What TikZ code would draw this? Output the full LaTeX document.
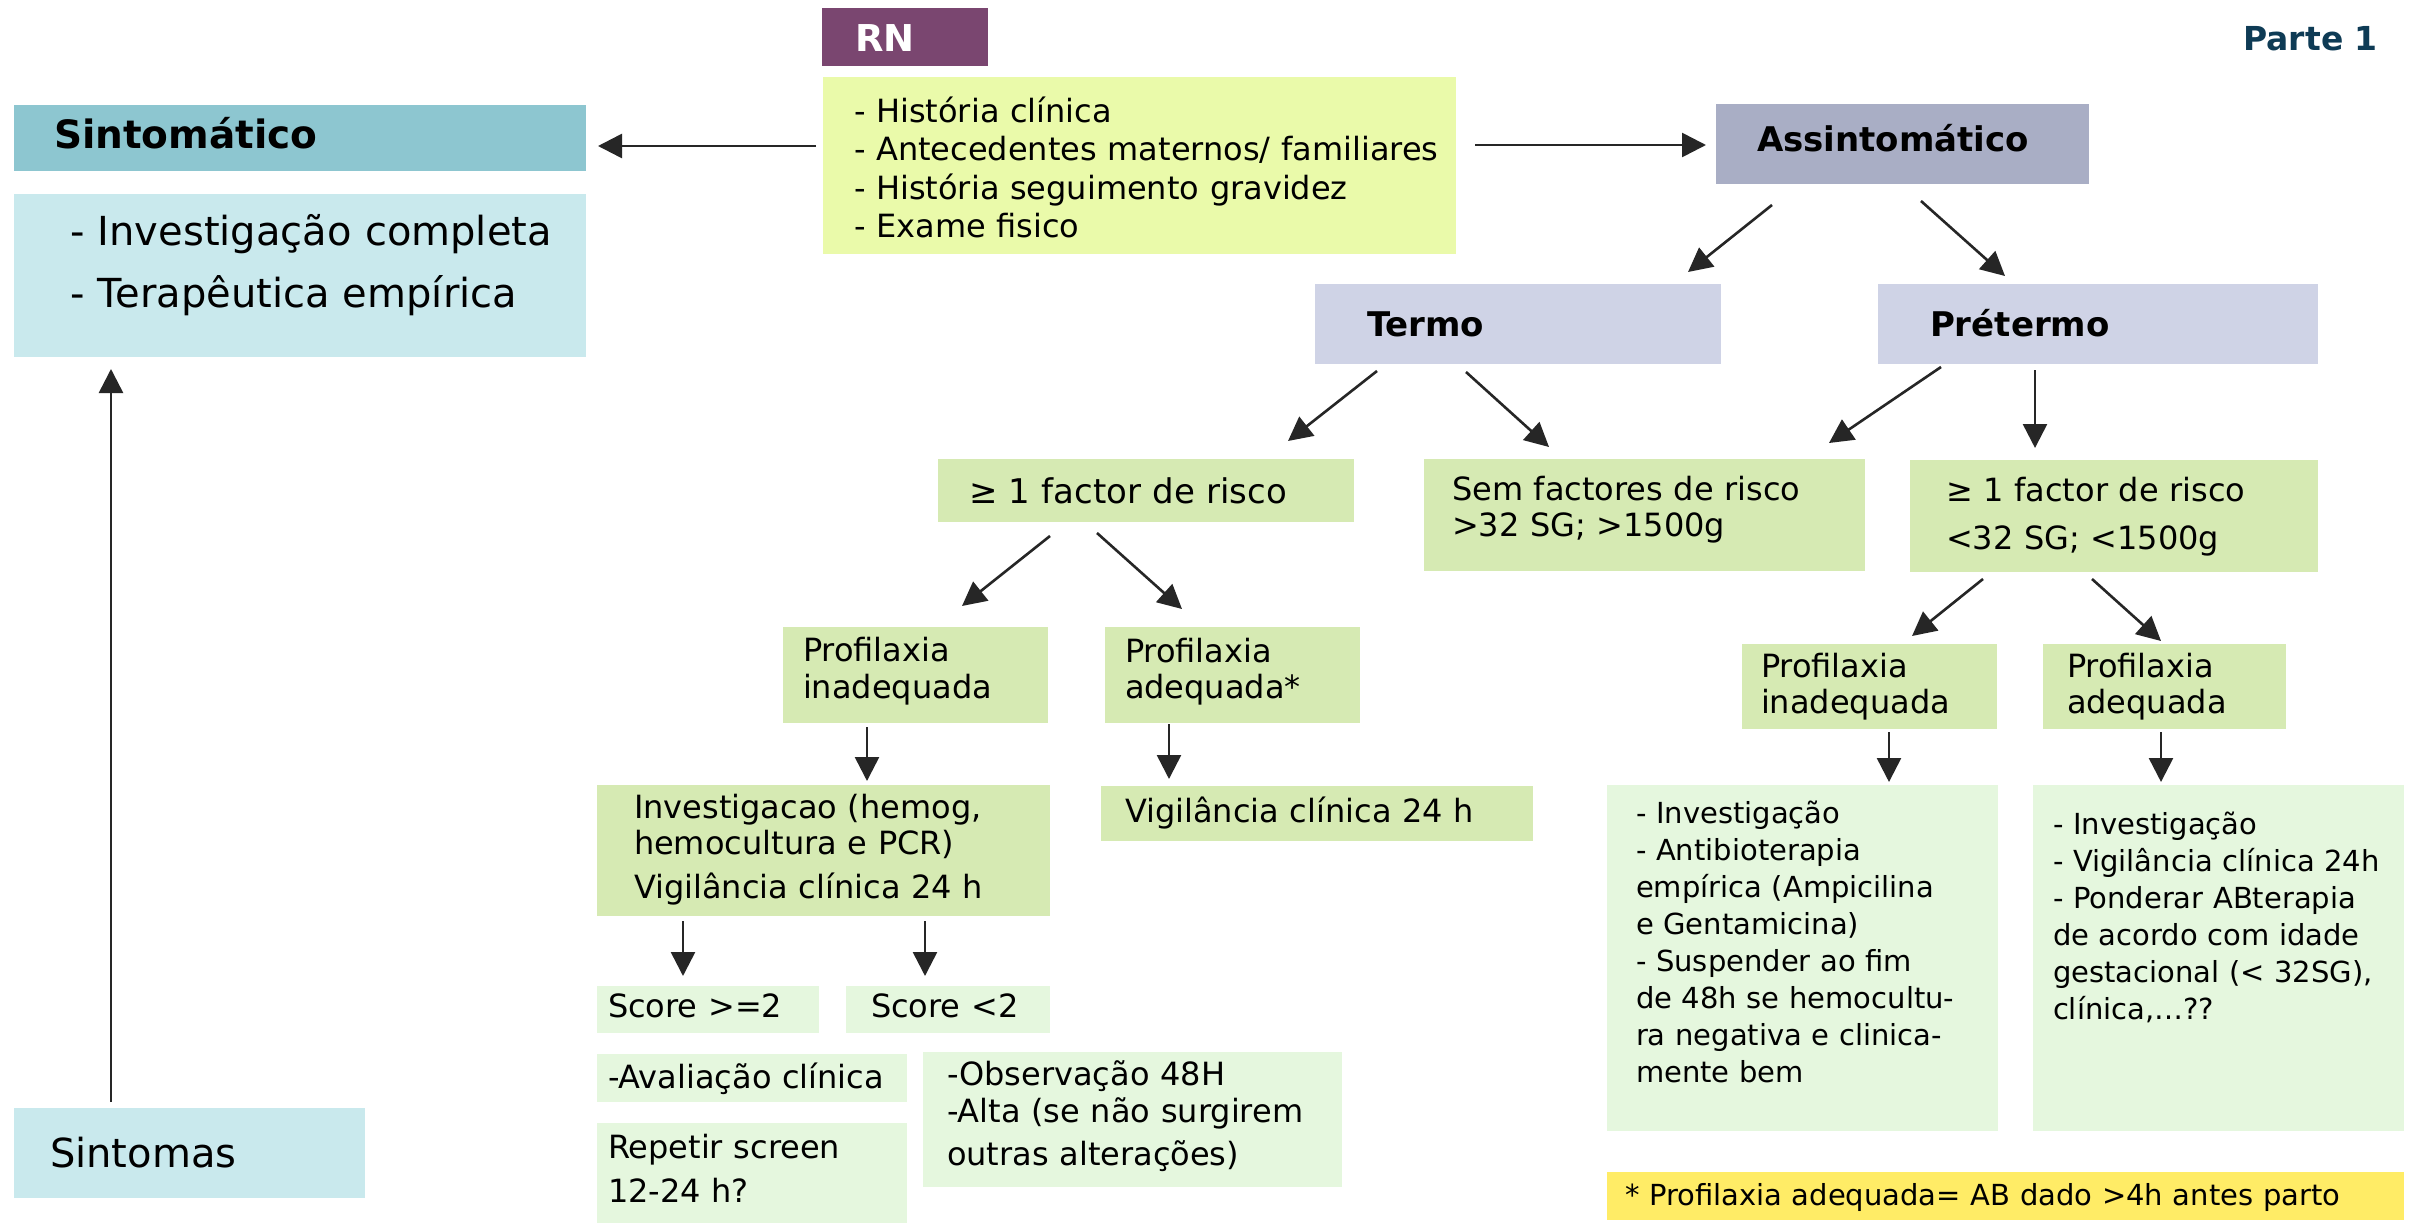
\documentclass[tikz,border=0pt]{standalone}
\usepackage{fontspec}
\setmainfont{DejaVu Sans}
\usetikzlibrary{arrows.meta,positioning}
\definecolor{RNPurple}{HTML}{7A4670}
\definecolor{ParteBlue}{HTML}{0E3B55}
\definecolor{SintTeal}{HTML}{8DC6D0}
\definecolor{SintLight}{HTML}{C9E9ED}
\definecolor{HistYellow}{HTML}{EAFAAA}
\definecolor{AssintGray}{HTML}{A9AEC5}
\definecolor{TermoLav}{HTML}{CFD3E6}
\definecolor{LeafGreen}{HTML}{D6EAB3}
\definecolor{PaleGreen}{HTML}{E5F7DE}
\definecolor{NoteYellow}{HTML}{FFEC66}
\definecolor{Arrow}{HTML}{262626}
\newcommand{\fsz}[2]{\fontsize{#1}{#2}\selectfont}
\tikzset{
  % fill, width, height, left pad, first baseline below the top edge
  panel/.style n args={5}{anchor=north west, inner sep=0pt, outer sep=0pt,
    fill=#1, minimum width=#2pt, text width=#2pt, minimum height=#3pt,
    align=left, text height=#5pt,
    /utils/exec={\pgfmathsetlengthmacro\paneldepth{#3-#5}},
    text depth=\paneldepth,
    execute at begin node={\leftskip=#4pt\relax}},
  flow/.style={draw=Arrow, line width=2.6pt, -{Triangle[length=24pt,width=24pt]}},
}

\begin{document}
\begin{tikzpicture}[x=1pt,y=-1pt]
  \fill[white] (0,0) rectangle (2413,1223);
  \useasboundingbox (0,0) rectangle (2413,1223);

  \node[panel={RNPurple}{166}{58}{33}{44}, font=\bfseries\fsz{37}{44}, text=white] (rn) at (822,8) {RN};
  \node[anchor=base east, inner sep=0pt, font=\bfseries\fsz{33}{40}, text=ParteBlue] (parte) at (2378,51) {Parte 1};
  \node[panel={HistYellow}{633}{177}{31}{45}, font=\fsz{32}{38.5}] (hist) at (823,77)
    {- História clínica\\- Antecedentes maternos/ familiares\\- História seguimento gravidez\\- Exame fisico};

  % symptomatic branch
  \node[panel={SintTeal}{572}{66}{40}{43}, font=\bfseries\fsz{39}{46}] (sint) at (14,105) {Sintomático};
  \node[panel={SintLight}{572}{163}{56}{51}, font=\fsz{40}{62}] (sintbody) at (14,194)
    {- Investigação completa\\- Terapêutica empírica};
  \node[panel={SintLight}{351}{90}{36}{59}, font=\fsz{40}{48}] (sintomas) at (14,1108) {Sintomas};

  % asymptomatic branch
  \node[panel={AssintGray}{373}{80}{41}{47}, font=\bfseries\fsz{34}{40}] (assint) at (1716,104) {Assintomático};
  \node[panel={TermoLav}{406}{80}{52}{52}, font=\bfseries\fsz{34}{40}] (termo) at (1315,284) {Termo};
  \node[panel={TermoLav}{440}{80}{52}{52}, font=\bfseries\fsz{34}{40}] (pretermo) at (1878,284) {Prétermo};

  \node[panel={LeafGreen}{416}{63}{31}{44}, font=\fsz{34}{40}] (riscotermo) at (938,459) {≥ 1 factor de risco};
  \node[panel={LeafGreen}{441}{112}{28}{41}, font=\fsz{32}{36}] (semrisco) at (1424,459)
    {Sem factores de risco\\>32 SG; >1500g};
  \node[panel={LeafGreen}{408}{112}{36}{41}, font=\fsz{32}{48}] (riscopre) at (1910,460)
    {≥ 1 factor de risco\\<32 SG; <1500g};

  \node[panel={LeafGreen}{265}{96}{20}{34}, font=\fsz{32}{37}] (inadtermo) at (783,627) {Profilaxia\\inadequada};
  \node[panel={LeafGreen}{255}{96}{20}{35}, font=\fsz{32}{36}] (adtermo) at (1105,627) {Profilaxia\\adequada*};
  \node[panel={LeafGreen}{453}{131}{37}{33}, font=\fsz{32}{36}] (invtermo) at (597,785)
    {Investigacao (hemog,\\hemocultura e PCR)\\[8pt]Vigilância clínica 24 h};
  \node[panel={LeafGreen}{432}{55}{24}{36}, font=\fsz{32}{38}] (vigtermo) at (1101,786) {Vigilância clínica 24 h};

  \node[panel={PaleGreen}{222}{47}{11}{31}, font=\fsz{32}{38}] (scorehi) at (597,986) {Score >=2};
  \node[panel={PaleGreen}{204}{47}{25}{31}, font=\fsz{32}{38}] (scorelo) at (846,986) {Score <2};
  \node[panel={PaleGreen}{310}{48}{11}{34}, font=\fsz{32}{38}] (avaliacao) at (597,1054) {-Avaliação clínica};
  \node[panel={PaleGreen}{310}{100}{11}{35}, font=\fsz{32}{44}] (repetir) at (597,1123) {Repetir screen\\12-24 h?};
  \node[panel={PaleGreen}{419}{135}{24}{33}, font=\fsz{32}{37}] (observa) at (923,1052)
    {-Observação 48H\\-Alta (se não surgirem\\[6pt]outras alterações)};

  \node[panel={LeafGreen}{255}{85}{19}{33}, font=\fsz{32}{36}] (inadpre) at (1742,644) {Profilaxia\\inadequada};
  \node[panel={LeafGreen}{243}{85}{24}{33}, font=\fsz{32}{36}] (adpre) at (2043,644) {Profilaxia\\adequada};
  \node[panel={PaleGreen}{391}{346}{29}{38}, font=\fsz{29}{37}] (invpre) at (1607,785)
    {- Investigação\\- Antibioterapia\\empírica (Ampicilina\\e Gentamicina)\\- Suspender ao fim\\de 48h se hemocultu-\\ra negativa e clinica-\\mente bem};
  \node[panel={PaleGreen}{371}{346}{20}{49}, font=\fsz{29}{37}] (vigpre) at (2033,785)
    {- Investigação\\- Vigilância clínica 24h\\- Ponderar ABterapia\\de acordo com idade\\gestacional (< 32SG),\\clínica,…??};
  \node[panel={NoteYellow}{797}{48}{18}{33}, font=\fsz{29}{35}] (nota) at (1607,1172)
    {* Profilaxia adequada= AB dado >4h antes parto};

  % connectors
  \draw[flow] ([shift={(-7,69)}]hist.north west) -- ([shift={(12,41)}]sint.north east);
  \draw[flow] ([shift={(19,68)}]hist.north east) -- ([shift={(-10,41)}]assint.north west);
  \draw[flow] ([shift={(97,-6)}]sintomas.north west) -- ([shift={(97,12)}]sintbody.south west);

  \draw[flow] ([shift={(56,21)}]assint.south west) -- ([shift={(-33,-12)}]termo.north east);
  \draw[flow] ([shift={(205,17)}]assint.south west) -- ([shift={(127,-8)}]pretermo.north west);
  \draw[flow] ([shift={(62,7)}]termo.south west) -- ([shift={(-66,-18)}]riscotermo.north east);
  \draw[flow] ([shift={(151,8)}]termo.south west) -- ([shift={(125,-12)}]semrisco.north west);
  \draw[flow] ([shift={(63,3)}]pretermo.south west) -- ([shift={(-36,-16)}]semrisco.north east);
  \draw[flow] ([shift={(157,6)}]pretermo.south west) -- ([shift={(125,-12)}]riscopre.north west);

  \draw[flow] ([shift={(112,14)}]riscotermo.south west) -- ([shift={(179,-21)}]inadtermo.north west);
  \draw[flow] ([shift={(159,11)}]riscotermo.south west) -- ([shift={(77,-18)}]adtermo.north west);
  \draw[flow] ([shift={(84,4)}]inadtermo.south west) -- ([shift={(270,-4)}]invtermo.north west);
  \draw[flow] ([shift={(64,1)}]adtermo.south west) -- ([shift={(68,-7)}]vigtermo.north west);
  \draw[flow] ([shift={(86,5)}]invtermo.south west) -- ([shift={(86,-10)}]scorehi.north west);
  \draw[flow] ([shift={(328,5)}]invtermo.south west) -- ([shift={(79,-10)}]scorelo.north west);

  \draw[flow] ([shift={(73,7)}]riscopre.south west) -- ([shift={(170,-8)}]inadpre.north west);
  \draw[flow] ([shift={(182,7)}]riscopre.south west) -- ([shift={(118,-3)}]adpre.north west);
  \draw[flow] ([shift={(147,3)}]inadpre.south west) -- ([shift={(282,-3)}]invpre.north west);
  \draw[flow] ([shift={(118,3)}]adpre.south west) -- ([shift={(128,-3)}]vigpre.north west);
\end{tikzpicture}
\end{document}
